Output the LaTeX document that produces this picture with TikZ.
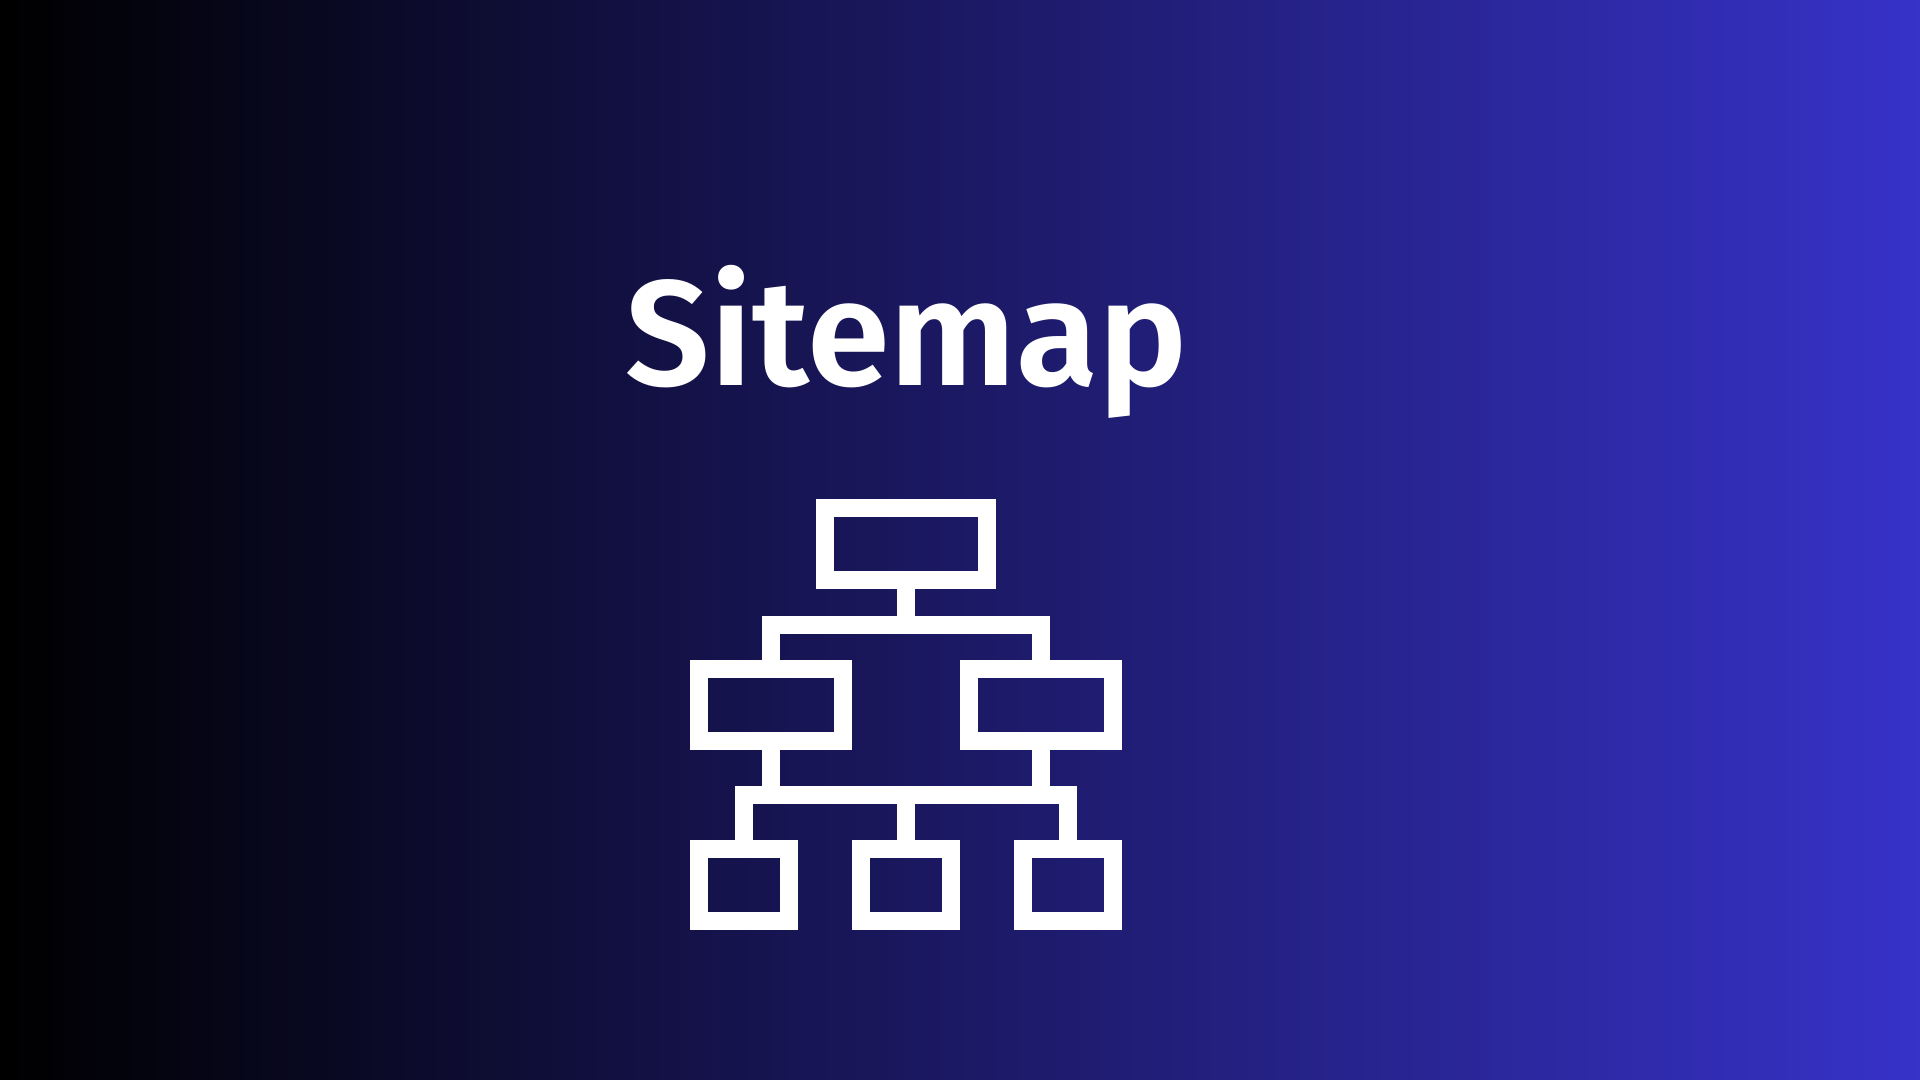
\documentclass[tikz,border=0pt]{standalone}
\usepackage{fontspec}
\usepackage{xcolor}
\newfontfamily\titlefont{Fira Sans SemiBold}
\definecolor{bgdark}{RGB}{0,0,0}
\definecolor{bgblue}{RGB}{55,50,200}
\begin{document}
\begin{tikzpicture}[
  pagebox/.style={draw=white, line width=0.18cm, outer sep=0pt, inner sep=0pt},
  link/.style={draw=white, line width=0.18cm}
]

% Background
\shade[left color=bgdark, right color=bgblue] (0, 0) rectangle (19.2, 10.8);
\useasboundingbox (0, 0) rectangle (19.2, 10.8);

% Title
\node[text=white, font=\titlefont\fontsize{42.6}{44}\selectfont, anchor=base, inner sep=0pt] (title) at (9.068, 6.943) {Sitemap};

% Level 1
\node[pagebox, minimum width=1.62cm, minimum height=0.72cm] (home) at (9.056, 5.364) {};

% Level 2
\node[pagebox, minimum width=1.44cm, minimum height=0.72cm] (secleft) at (7.706, 3.745) {};
\node[pagebox, minimum width=1.44cm, minimum height=0.72cm] (secright) at (10.406, 3.745) {};

% Level 3
\node[pagebox, minimum width=0.90cm, minimum height=0.72cm] (pagea) at (7.437, 1.945) {};
\node[pagebox, minimum width=0.90cm, minimum height=0.72cm] (pageb) at (9.056, 1.945) {};
\node[pagebox, minimum width=0.90cm, minimum height=0.72cm] (pagec) at (10.677, 1.945) {};

% Bus lines
\coordinate (busa) at (9.056, 4.553);
\coordinate (busb) at (9.056, 2.847);

% Connections
\draw[link] (home) -- (busa);
\draw[link] (secleft) |- (busa) -| (secright);
\draw[link] (secleft) -- (secleft |- busb);
\draw[link] (secright) -- (secright |- busb);
\draw[link] (pagea) |- (busb) -| (pagec);
\draw[link] (pageb) -- (busb);

\end{tikzpicture}
\end{document}
